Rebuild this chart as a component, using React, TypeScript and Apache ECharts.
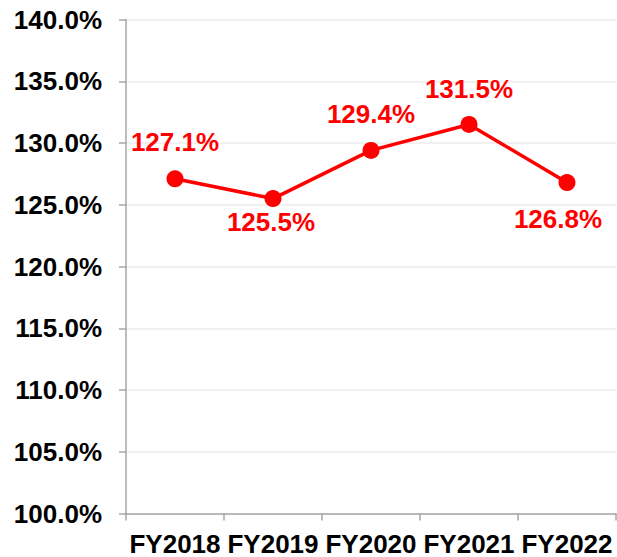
import React, { useEffect, useRef } from "react";
import * as echarts from "echarts";

const categories = ["FY2018", "FY2019", "FY2020", "FY2021", "FY2022"];
const values = [127.1, 125.5, 129.4, 131.5, 126.8];
const labelPositions = ["top", "bottom", "top", "top", "bottom"];
const labelDistances = [15, 2, 15, 14, 15];
const labelOffsetsX = [0, -2, 0, 0, -9];

const FONT = "'Liberation Sans', Arial, sans-serif";

export default function App() {
  const ref = useRef<HTMLDivElement>(null);
  useEffect(() => {
    if (!ref.current) return;
    const chart = echarts.init(ref.current, null, { renderer: "svg" });
    chart.setOption({
      animation: false,
      backgroundColor: "#ffffff",
      grid: { left: 126, top: 19.5, width: 490, bottom: 43.5 },
      xAxis: {
        type: "category",
        data: categories,
        boundaryGap: true,
        axisLine: { show: true, lineStyle: { color: "#a6a6a6", width: 1.5 } },
        axisTick: { show: true, length: 7, lineStyle: { color: "#a6a6a6", width: 1.5 } },
        axisLabel: {
          color: "#000",
          fontSize: 26,
          lineHeight: 20,
          fontWeight: "bold",
          fontFamily: FONT,
          margin: 20,
          interval: 0,
        },
        splitLine: { show: false },
      },
      yAxis: {
        type: "value",
        min: 100,
        max: 140,
        interval: 5,
        axisLine: { show: true, lineStyle: { color: "#a6a6a6", width: 1.5 } },
        axisTick: { show: true, length: 7, lineStyle: { color: "#a6a6a6", width: 1.5 } },
        axisLabel: {
          color: "#000",
          fontSize: 26,
          fontWeight: "bold",
          fontFamily: FONT,
          margin: 24,
          formatter: (v: number) => v.toFixed(1) + "%",
        },
        splitLine: { show: true, lineStyle: { color: "#ececec", width: 1.5 } },
      },
      series: [
        {
          type: "line",
          data: values.map((v, i) => ({
            value: v,
            label: {
              position: labelPositions[i],
              distance: labelDistances[i],
              offset: [labelOffsetsX[i], 0],
            },
          })),
          symbol: "circle",
          symbolSize: 17,
          lineStyle: { color: "#ff0000", width: 3.5 },
          itemStyle: { color: "#ff0000" },
          label: {
            show: true,
            color: "#ff0000",
            fontSize: 26,
            fontWeight: "bold",
            fontFamily: FONT,
            formatter: (p: any) => p.value.toFixed(1) + "%",
          },
        },
      ],
    });
    return () => chart.dispose();
  }, []);
  return (
    <div
      ref={ref}
      style={{ position: "absolute", left: 0, top: 0, width: 617, height: 557 }}
    />
  );
}
